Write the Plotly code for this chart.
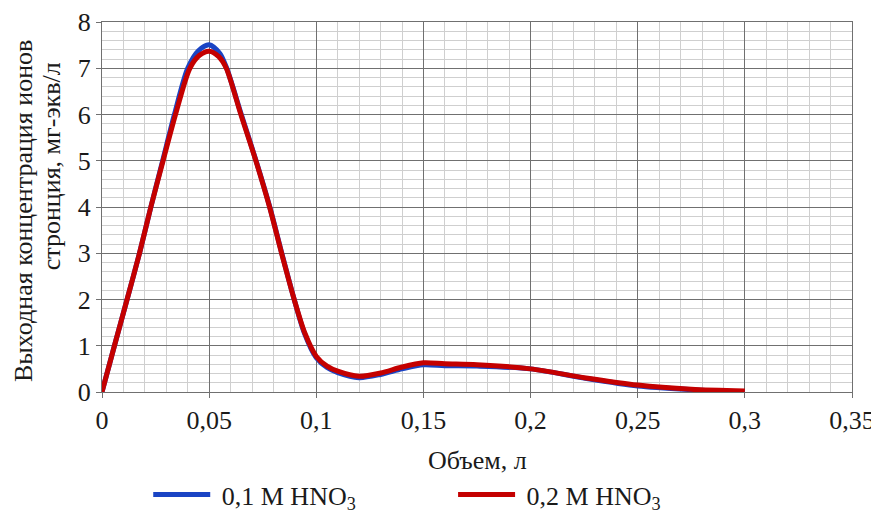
import plotly.graph_objects as go

blue_x = [0, 0.0058, 0.0117, 0.0175, 0.0228, 0.0283, 0.0338, 0.040, 0.045, 0.05, 0.055, 0.0582, 0.065, 0.0719, 0.0783, 0.0839, 0.0897, 0.0944, 0.1, 0.105, 0.11, 0.12, 0.13, 0.14, 0.15, 0.16, 0.175, 0.2, 0.225, 0.25, 0.275, 0.3]
blue_vals = [0, 1, 2, 3, 4, 5, 6, 7, 7.38, 7.51, 7.32, 7.0, 6.0, 5.0, 4.0, 3.0, 2.0, 1.28, 0.74, 0.53, 0.42, 0.31, 0.38, 0.5, 0.59, 0.57, 0.56, 0.5, 0.3, 0.13, 0.05, 0.0]
red_x = [0, 0.0058, 0.0117, 0.0175, 0.0228, 0.0285, 0.0343, 0.041, 0.0455, 0.05, 0.0545, 0.058, 0.0648, 0.0718, 0.0782, 0.0838, 0.0897, 0.0946, 0.1, 0.105, 0.11, 0.12, 0.13, 0.14, 0.15, 0.16, 0.175, 0.2, 0.225, 0.25, 0.275, 0.3]
red_vals = [0, 1, 2, 3, 4, 5, 6, 7, 7.28, 7.37, 7.25, 7.0, 6.0, 5.0, 4.0, 3.0, 2.0, 1.28, 0.77, 0.56, 0.45, 0.34, 0.41, 0.54, 0.63, 0.61, 0.59, 0.5, 0.31, 0.15, 0.06, 0.02]

x_ticks = [0, 0.05, 0.1, 0.15, 0.2, 0.25, 0.3, 0.35]
x_tick_labels = ["0", "0,05", "0,1", "0,15", "0,2", "0,25", "0,3", "0,35"]
y_ticks = [0, 1, 2, 3, 4, 5, 6, 7, 8]

series_names = ["\u00a00,1 M HNO<sub>3</sub>", "\u00a00,2 M HNO<sub>3</sub>"]
x_title = "Объем, л"
y_title_lines = ["Выходная концентрация ионов", "стронция, мг-экв/л"]

font_family = "Liberation Serif"
text_color = "#1a1a1a"

fig = go.Figure()
fig.add_trace(go.Scatter(x=blue_x, y=blue_vals, mode="lines", name=series_names[0], legend="legend",
                         line=dict(color="#1a44c4", width=5, shape="spline", smoothing=0.8)))
fig.add_trace(go.Scatter(x=red_x, y=red_vals, mode="lines", name=series_names[1], legend="legend2",
                         line=dict(color="#c40000", width=5, shape="spline", smoothing=0.8)))

legend_common = dict(orientation="h", xref="container", yref="container", y=0.042,
                     xanchor="left", yanchor="middle", itemwidth=57,
                     bgcolor="rgba(0,0,0,0)",
                     font=dict(size=26, family=font_family, color=text_color))

fig.update_layout(
    width=871, height=508,
    margin=dict(l=94, r=27, t=14, b=124, autoexpand=False),
    paper_bgcolor="white", plot_bgcolor="white",
    font=dict(family=font_family, size=26, color=text_color),
    showlegend=True,
    legend=dict(x=0.161, **legend_common),
    legend2=dict(x=0.511, **legend_common),
    xaxis=dict(range=[0, 0.35], tickvals=x_ticks, ticktext=x_tick_labels,
               showgrid=True, gridcolor="#707070", gridwidth=1,
               minor=dict(dtick=0.01, showgrid=True, gridcolor="#cfcfcf", gridwidth=1),
               ticks="outside", ticklen=5, tickcolor="#707070",
               showline=True, linecolor="#707070", mirror=True, zeroline=False,
               tickfont=dict(size=26, family=font_family, color=text_color)),
    yaxis=dict(range=[0, 8], tickvals=y_ticks,
               showgrid=True, gridcolor="#707070", gridwidth=1,
               minor=dict(dtick=0.2, showgrid=True, gridcolor="#cfcfcf", gridwidth=1),
               ticks="outside", ticklen=5, tickcolor="#707070",
               showline=True, linecolor="#707070", mirror=True, zeroline=False,
               tickfont=dict(size=26, family=font_family, color=text_color)),
    annotations=[
        dict(text=x_title, xref="paper", yref="paper", x=0.5, y=0, yshift=-68,
             xanchor="center", yanchor="middle", showarrow=False,
             font=dict(size=26, family=font_family, color=text_color)),
        dict(text=y_title_lines[0], xref="paper", yref="paper", x=0, xshift=-79, y=0.489,
             xanchor="center", yanchor="middle", textangle=-90, showarrow=False,
             font=dict(size=26, family=font_family, color=text_color)),
        dict(text=y_title_lines[1], xref="paper", yref="paper", x=0, xshift=-51, y=0.61,
             xanchor="center", yanchor="middle", textangle=-90, showarrow=False,
             font=dict(size=26, family=font_family, color=text_color)),
    ],
)

fig.write_html("out.html")
